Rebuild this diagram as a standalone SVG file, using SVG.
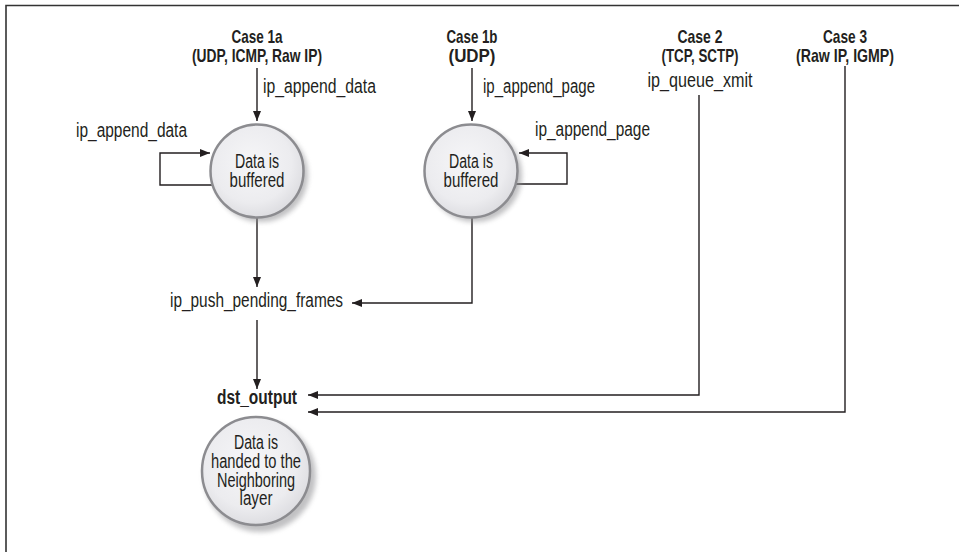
<svg xmlns="http://www.w3.org/2000/svg" width="959" height="552" viewBox="0 0 959 552">
<style>
text{font-family:"Liberation Sans",Arial,sans-serif;fill:#231f20;}
.t{font-size:20px;}
.h{font-size:18.5px;font-weight:bold;text-anchor:middle;}
.c{font-size:20px;text-anchor:middle;}
.b{font-size:19.5px;font-weight:bold;}
.ln{fill:none;stroke:#231f20;stroke-width:1.4;}
.ar{marker-end:url(#ah);}
.node circle.face{fill:url(#g);stroke:#8c8c90;stroke-width:2.5;}
.node circle.sh{fill:#8e8e92;opacity:.55;filter:url(#blur);}
</style>
<defs>
<marker id="ah" markerUnits="userSpaceOnUse" markerWidth="10" markerHeight="8" refX="10" refY="4" orient="auto">
<path d="M0,0 L10,4 L0,8 z" fill="#231f20"/>
</marker>
<radialGradient id="g" cx="0.45" cy="0.42" r="0.6">
<stop offset="0" stop-color="#f6f6f8"/>
<stop offset="0.7" stop-color="#ececef"/>
<stop offset="1" stop-color="#dcdce0"/>
</radialGradient>
<filter id="blur" x="-20%" y="-20%" width="140%" height="140%"><feGaussianBlur stdDeviation="2.5"/></filter>
</defs>
<rect width="959" height="552" fill="#fff"/>
<path d="M6,552 V5.5 H959" fill="none" stroke="#333" stroke-width="1.6"/>

<g id="connectors">
<path class="ln ar" d="M257,68 V121"/>
<path class="ln ar" d="M472,68 V121"/>
<path class="ln ar" d="M213,185 H160 V153 H210"/>
<path class="ln ar" d="M513,184 H567 V153 H519"/>
<path class="ln ar" d="M257,218 V287"/>
<path class="ln ar" d="M472,218 V303 H352"/>
<path class="ln ar" d="M257,320 V389"/>
<path class="ln ar" d="M699,95 V395 H308"/>
<path class="ln ar" d="M845,66 V412 H308"/>
</g>

<g id="case1a">
<text class="h" x="257" y="43" textLength="51" lengthAdjust="spacingAndGlyphs">Case 1a</text>
<text class="h" x="257" y="62" textLength="130" lengthAdjust="spacingAndGlyphs">(UDP, ICMP, Raw IP)</text>
</g>
<g id="case1b">
<text class="h" x="472" y="43" textLength="51" lengthAdjust="spacingAndGlyphs">Case 1b</text>
<text class="h" x="472" y="62" textLength="47" lengthAdjust="spacingAndGlyphs">(UDP)</text>
</g>
<g id="case2">
<text class="h" x="700" y="43" textLength="45" lengthAdjust="spacingAndGlyphs">Case 2</text>
<text class="h" x="700" y="62" textLength="77" lengthAdjust="spacingAndGlyphs">(TCP, SCTP)</text>
<text class="c" x="700" y="87" textLength="105" lengthAdjust="spacingAndGlyphs">ip_queue_xmit</text>
</g>
<g id="case3">
<text class="h" x="845" y="43" textLength="44" lengthAdjust="spacingAndGlyphs">Case 3</text>
<text class="h" x="845" y="62" textLength="98" lengthAdjust="spacingAndGlyphs">(Raw IP, IGMP)</text>
</g>

<g id="labels">
<text class="t" x="263" y="93" textLength="113" lengthAdjust="spacingAndGlyphs">ip_append_data</text>
<text class="t" x="76" y="137" textLength="111" lengthAdjust="spacingAndGlyphs">ip_append_data</text>
<text class="t" x="483" y="93" textLength="112" lengthAdjust="spacingAndGlyphs">ip_append_page</text>
<text class="t" x="535" y="136" textLength="115" lengthAdjust="spacingAndGlyphs">ip_append_page</text>
</g>

<g id="buffer1" class="node">
<circle class="sh" cx="261" cy="175" r="47"/>
<circle class="face" cx="257" cy="171" r="46.5"/>
<text class="c" x="257" y="168" textLength="44" lengthAdjust="spacingAndGlyphs">Data is</text>
<text class="c" x="257" y="187" textLength="55" lengthAdjust="spacingAndGlyphs">buffered</text>
</g>
<g id="buffer2" class="node">
<circle class="sh" cx="475" cy="175" r="47"/>
<circle class="face" cx="471" cy="171" r="46.5"/>
<text class="c" x="471" y="168" textLength="44" lengthAdjust="spacingAndGlyphs">Data is</text>
<text class="c" x="471" y="187" textLength="55" lengthAdjust="spacingAndGlyphs">buffered</text>
</g>

<g id="push">
<text class="t" x="170" y="307" textLength="173" lengthAdjust="spacingAndGlyphs">ip_push_pending_frames</text>
</g>
<g id="dst">
<text class="b" x="217" y="404" textLength="80" lengthAdjust="spacingAndGlyphs">dst_output</text>
</g>

<g id="neighbor" class="node">
<circle class="sh" cx="260" cy="476" r="56"/>
<circle class="face" cx="256" cy="471" r="54"/>
<text class="c" x="256" y="449" textLength="44" lengthAdjust="spacingAndGlyphs">Data is</text>
<text class="c" x="256" y="468" textLength="90" lengthAdjust="spacingAndGlyphs">handed to the</text>
<text class="c" x="256" y="487" textLength="78" lengthAdjust="spacingAndGlyphs">Neighboring</text>
<text class="c" x="256" y="505" textLength="33" lengthAdjust="spacingAndGlyphs">layer</text>
</g>
</svg>
